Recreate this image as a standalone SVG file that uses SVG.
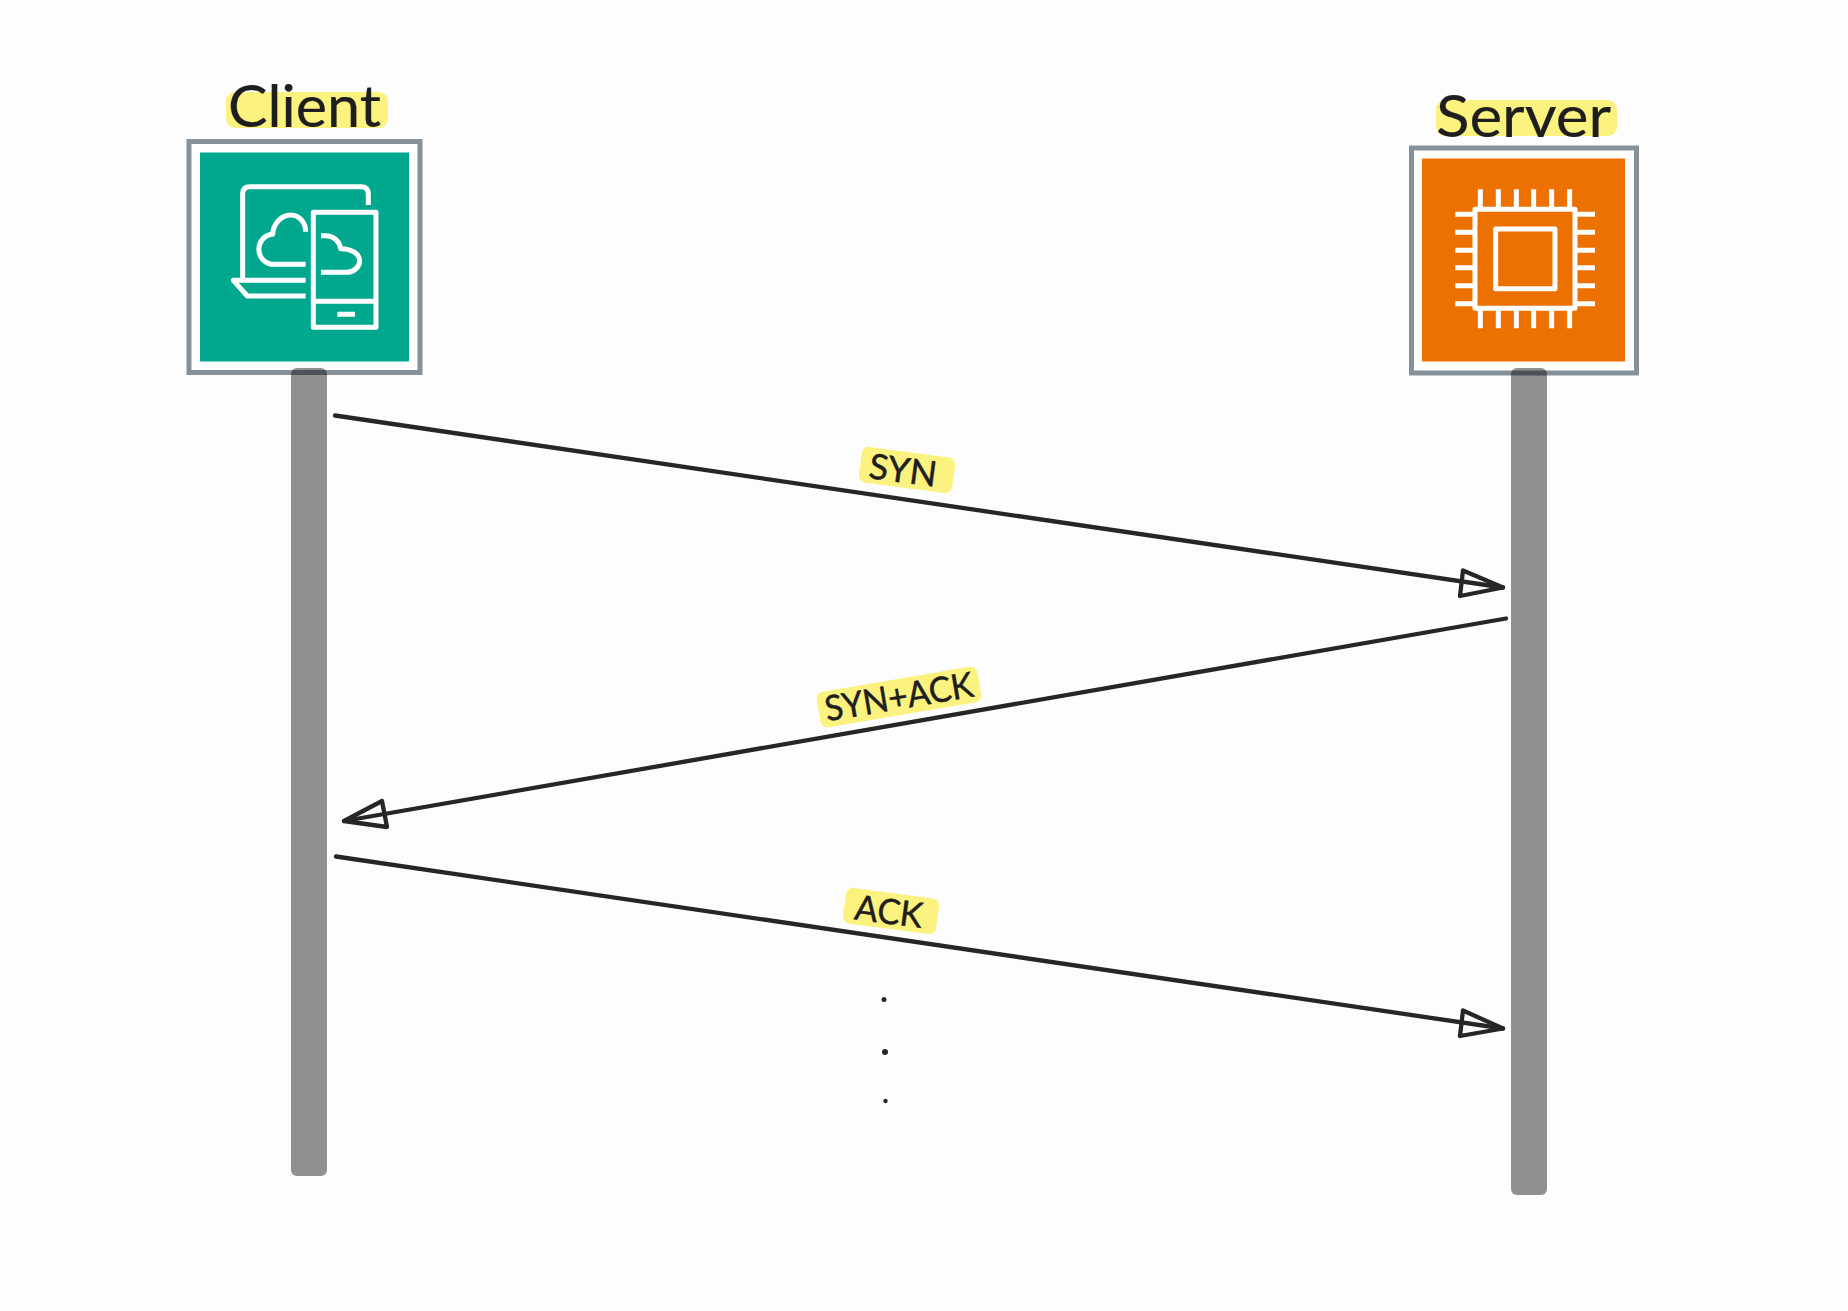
<svg xmlns="http://www.w3.org/2000/svg" width="1848" height="1311" viewBox="0 0 1848 1311">
<style>
.box{fill:#fff;stroke:#879199;stroke-width:5}
.icon{fill:none;stroke:#fff;stroke-width:15;stroke-linejoin:round}
.life{fill:#000;fill-opacity:.43}
.hl{fill:#fbf27f}
.title{font-family:"Lato","Noto Sans",sans-serif;font-size:59px;fill:#1e1e1e;stroke:#1e1e1e;stroke-width:.2}
.lab{font-family:"Lato","Noto Sans",sans-serif;font-size:35px;fill:#1e1e1e;stroke:#1e1e1e;stroke-width:.5;text-anchor:middle}
.conn{fill:none;stroke:#262626;stroke-width:4.300;stroke-linecap:round;stroke-linejoin:round}
.dot{fill:#262626}
</style>
<rect width="1848" height="1311" fill="#fdfdfd"/>
<g id="client">
<rect class="hl" x="226" y="92" width="162" height="36" rx="9"/>
<text class="title" x="228" y="127" textLength="153" lengthAdjust="spacingAndGlyphs">Client</text>
<rect class="box" x="189" y="141.500" width="231" height="231"/>
<rect x="200" y="152.500" width="209" height="209" fill="#01a88d"/>
<g transform="translate(170 60) scale(.3333)" class="icon">
<path d="M595 435V402Q595 380 573 380H240Q218 380 218 402V655"/>
<path d="M407 661H190L232 708H407"/>
<path d="M407 613H303A46 46 0 0 1 303 523H308C310 490 335 465 362 465C390 465 407 490 407 515"/>
<rect x="430" y="457" width="188" height="345"/>
<path d="M430 724H618M502 763H555"/>
<path d="M453 527H468A45 45 0 0 1 512 566C545 566 569 582 569 603C569 622 550 637 530 637H453"/>
</g>
</g>
<g id="server">
<rect class="hl" x="1436" y="100" width="181" height="36" rx="9"/>
<text class="title" x="1436" y="137" textLength="175" lengthAdjust="spacingAndGlyphs">Server</text>
<rect class="box" x="1411.500" y="148" width="225" height="225"/>
<rect x="1422" y="158.500" width="203" height="203" fill="#ed7100"/>
<g transform="translate(1390 70) scale(.3333)" class="icon">
<rect x="255" y="418" width="300" height="297"/>
<rect x="317" y="477" width="178" height="179"/>
<path d="M271 358V418M325 358V418M379 358V418M431 358V418M485 358V418M539 358V418M271 715V775M325 715V775M379 715V775M431 715V775M485 715V775M539 715V775M196 433H255M196 487H255M196 541H255M196 593H255M196 647H255M196 701H255M555 433H615M555 487H615M555 541H615M555 593H615M555 647H615M555 701H615"/>
</g>
</g>
<g id="client-lifeline"><rect class="life" x="291" y="368" width="36" height="808" rx="6"/></g>
<g id="server-lifeline"><rect class="life" x="1511" y="368" width="36" height="827" rx="6"/></g>
<g id="label-syn">
<rect class="hl" x="860" y="452" width="94" height="36" rx="7" transform="rotate(7.500 907 470)"/>
<text class="lab" x="903" y="483" textLength="68" lengthAdjust="spacingAndGlyphs" transform="rotate(7.500 907 470)">SYN</text>
</g>
<g id="label-synack">
<rect class="hl" x="817.500" y="679" width="163" height="36" rx="7" transform="rotate(-9.600 899 697)"/>
<text class="lab" x="899" y="709" textLength="150" lengthAdjust="spacingAndGlyphs" transform="rotate(-9.600 899 697)">SYN+ACK</text>
</g>
<g id="label-ack">
<rect class="hl" x="844" y="893" width="94" height="36" rx="7" transform="rotate(7.500 891 911)"/>
<text class="lab" x="889" y="924" textLength="68" lengthAdjust="spacingAndGlyphs" transform="rotate(7.500 891 911)">ACK</text>
</g>
<g id="connectors" class="conn">
<path d="M335 415.500L1503 587.500"/>
<path d="M1503 587.500L1463 570.500L1460 596Z"/>
<path d="M1506 618.500L344 821"/>
<path d="M344 821L382 801L387 827Z"/>
<path d="M336 856.500L1503 1028.500"/>
<path d="M1503 1028.500L1463 1010.500L1460 1036Z"/>
</g>
<g id="dots">
<circle class="dot" cx="884" cy="999.500" r="2.500"/>
<circle class="dot" cx="885" cy="1052" r="3"/>
<circle class="dot" cx="885.500" cy="1101" r="2.200"/>
</g>
</svg>
